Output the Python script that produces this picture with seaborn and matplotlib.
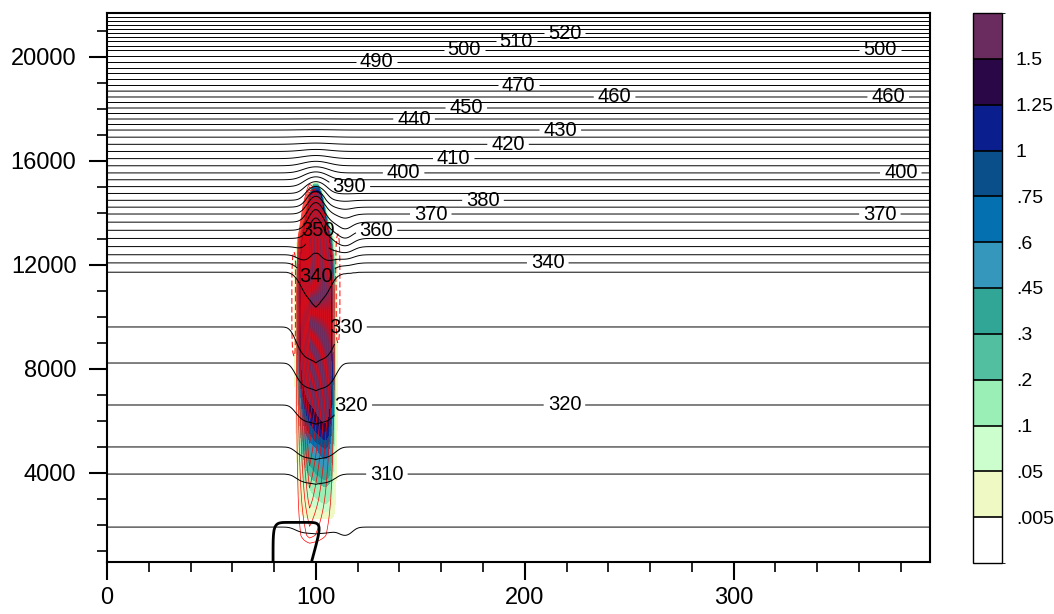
import numpy as np
import matplotlib
matplotlib.use("Agg")
import matplotlib.pyplot as plt
import seaborn as sns
from matplotlib.colors import ListedColormap, BoundaryNorm
from matplotlib.cm import ScalarMappable
from matplotlib.ticker import MultipleLocator

# --- values ---
# far-field potential temperature: height (m) of a few isentropes
theta_z = [0, 1920, 3960, 5000, 6615, 8230, 9615, 11730, 12080, 13960, 15540, 17190, 18460, 20270, 20920, 21700]
theta_v = [300.3, 305, 310, 315, 320, 325, 330, 335, 340, 370, 400, 430, 460, 500, 520, 545]
theta_levels = np.arange(300, 550, 5)

# sinking of isentropes inside / beside the plume (m)
dip_z = [1000, 1900, 3000, 4000, 5000, 6600, 8200, 9600, 10500, 11500, 13000]
dip_m = [0, -300, -300, -350, -450, -750, -1150, -1300, -1100, -500, 0]
# lifting of isentropes over the plume top (m) and its half width
lift_peak = 800
lift_z = 14000
liftw_z = [12000, 14500, 15500, 17000]
liftw_v = [5.0, 5.0, 7.0, 10.0]

# cloud (filled) : strength, half width, skew with height
cloud_z = [2200, 3500, 5000, 6500, 8000, 14000, 14600, 15150]
cloud_q = [0, 0.15, 0.6, 1.6, 3.0, 3.0, 2.0, 0]
cloudw_z = [2200, 12000, 13000, 14000, 14700, 15150]
cloudw_v = [7.5, 7.5, 6.5, 4.0, 2.7, 1.0]
skew_z = [3000, 7000, 9000]
skew_v = [0.1, 0.05, 0.0]

cloud_levels = [0.005, 0.05, 0.1, 0.2, 0.3, 0.45, 0.6, 0.75, 1, 1.25, 1.5]
cloud_labels = [".005", ".05", ".1", ".2", ".3", ".45", ".6", ".75", "1", "1.25", "1.5"]
cloud_colors = ["#ffffff", "#eef9c4", "#ccfdcc", "#99efb6", "#52bfa0", "#32a696",
                "#3597bc", "#0570b0", "#0a4f8a", "#0b1e8e", "#2a0848", "#6a2c5e"]

# updraft (red lines): core sits left of the cloud centre
w_z = [1100, 1600, 3000, 6000, 9000, 11500, 13000, 14300, 15200]
w_v = [0, 2.5, 4.5, 8, 12, 15, 16, 9, 0]
w_core = 97
ww_z = [1000, 11000, 13000, 14300, 15200]
ww_scale = [1.0, 1.0, 0.85, 0.5, 0.15]
w_left = 7.0
w_right = 13.0
red_levels = np.arange(1, 17, 1)

# thick outline near the ground
box_left = 79.5
box_top = 2100
boxr_z = [600, 2100]
boxr_x = [98, 103]

# contour labels: level -> [(x, z), ...]
theta_labels = {
    520: [(219, 20923)], 510: [(196, 20654)], 500: [(171, 20270), (370, 20270)],
    490: [(129, 19770)], 470: [(197, 18960)], 460: [(243, 18460), (374, 18460)],
    450: [(172, 18150)], 440: [(147, 17730)], 430: [(217, 17190)], 420: [(192, 16500)],
    410: [(166, 16040)], 400: [(142, 15540), (380, 15540)], 390: [(116, 15080)],
    380: [(180, 14580)], 370: [(155, 13960), (370, 13960)], 360: [(129, 13150)],
    350: [(105, 13730)], 340: [(101, 10770), (211, 12080)], 330: [(115, 9420)],
    320: [(117, 6310), (219, 6580)], 310: [(134, 3890)],
}

# --- fields ---
x = np.arange(0, 394.5, 0.5)
z = np.arange(577, 21700, 20)
X, Z = np.meshgrid(x, z)
dx = X - 100

dip = np.interp(Z, dip_z, dip_m)
P = np.exp(-(np.abs(dx) / 10.0) ** 4)
V = np.exp(-np.abs(dx) / 3.0)
lift = np.where(Z < lift_z,
                lift_peak * np.exp(-((Z - lift_z) / 1500) ** 2),
                lift_peak * np.exp(-((Z - lift_z) / 1600) ** 2))
lift_w = np.interp(Z, liftw_z, liftw_v)
d = dip * (P + 0.2 * V) + lift * np.exp(-(dx / lift_w) ** 2)
d -= 300 * np.exp(-((X - 114) / 5) ** 2) * np.exp(-((Z - 13000) / 1000) ** 2)
d -= 400 * np.exp(-((X - 114) / 4) ** 2) * np.exp(-((Z - 1900) / 600) ** 2)
theta = np.interp(Z - d, theta_z, theta_v)

qa = np.interp(Z, cloudw_z, cloudw_v)
skew = np.interp(Z, skew_z, skew_v)
q = np.interp(Z, cloud_z, cloud_q) * np.exp(-(np.abs(dx) / qa) ** 6) * np.clip(1 + skew * dx, 0, None)

sc = np.interp(Z, ww_z, ww_scale)
dxw = X - w_core
half = np.where(dxw < 0, w_left, w_right) * sc
w = np.interp(Z, w_z, w_v) * np.clip(1 - np.abs(dxw) / half, 0, None)
w -= 2.0 * np.exp(-((X - 89.5) / 1.2) ** 2 - ((Z - 10500) / 2200) ** 4)
w -= 2.0 * np.exp(-((X - 110.5) / 1.2) ** 2 - ((Z - 11100) / 2300) ** 4)

right_edge = np.interp(Z, boxr_z, boxr_x)
bc = (box_left + right_edge) / 2
bh = (right_edge - box_left) / 2
box = ((X - bc) / bh) ** 8 + (Z / box_top) ** 8

# --- plot ---
sns.set_style("ticks", {"axes.edgecolor": "black", "xtick.color": "black",
                        "ytick.color": "black", "text.color": "black"})
plt.rcParams["font.family"] = ["Liberation Sans", "DejaVu Sans"]

fig = plt.figure(figsize=(10.54, 6.14), dpi=100)
ax = fig.add_axes([107 / 1054, 1 - 562 / 614, (930 - 107) / 1054, (562 - 13) / 614])
cax = fig.add_axes([973 / 1054, 1 - 563 / 614, 29 / 1054, 550 / 614])

ax.contourf(X, Z, q, levels=cloud_levels + [100], colors=cloud_colors[1:], zorder=1)
ax.contour(X, Z, w, levels=red_levels, colors="red", linewidths=0.5, zorder=2)
ax.contour(X, Z, w, levels=[-1], colors="red", linewidths=0.7, linestyles=[(0, (6, 3))], zorder=2)

plain = [lv for lv in theta_levels if int(lv) not in theta_labels]
ax.contour(X, Z, theta, levels=plain, colors="black", linewidths=0.7, zorder=3)
texts = []
for lev, spots in theta_labels.items():
    cs = ax.contour(X, Z, theta, levels=[lev], colors="black", linewidths=0.7, zorder=3)
    out = cs.clabel(manual=spots, inline=True, inline_spacing=4, fontsize=14.5, fmt="%d")
    texts.extend(out)
for t in texts:
    t.set_rotation(0)

ax.contour(X, Z, box, levels=[1], colors="black", linewidths=2.0, zorder=4)

ax.set_xlim(0, 394)
ax.set_ylim(577, 21690)
ax.set_xticks([0, 100, 200, 300])
ax.set_yticks([4000, 8000, 12000, 16000, 20000])
ax.xaxis.set_minor_locator(MultipleLocator(20))
ax.yaxis.set_minor_locator(MultipleLocator(1000))
ax.tick_params(which="major", direction="out", length=13, width=1.5, labelsize=17)
ax.tick_params(which="minor", direction="out", length=7, width=1.2)
ax.tick_params(axis="x", which="major", pad=5)
ax.tick_params(axis="y", which="major", pad=9)
for s in ax.spines.values():
    s.set_linewidth(1.5)
    s.set_color("black")

cmap = ListedColormap(cloud_colors)
norm = BoundaryNorm([0] + cloud_levels + [2], cmap.N)
cb = fig.colorbar(ScalarMappable(norm=norm, cmap=cmap), cax=cax, spacing="uniform",
                  ticks=cloud_levels, drawedges=True)
cb.ax.set_yticklabels(cloud_labels)
cb.ax.tick_params(length=0, labelsize=14, pad=10)
cb.outline.set_linewidth(1.0)
cb.dividers.set_linewidth(1.2)

fig.savefig("out.png", dpi=100)
